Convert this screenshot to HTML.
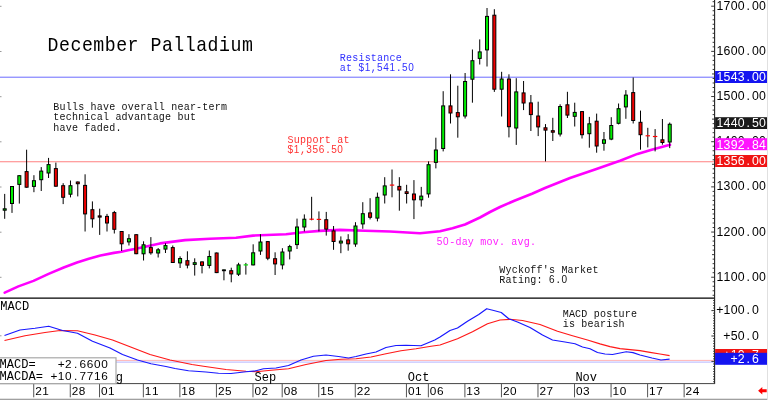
<!DOCTYPE html>
<html lang="en"><head><meta charset="utf-8"><title>December Palladium</title>
<style>
html,body{margin:0;padding:0;background:#fff;}
body{width:768px;height:400px;overflow:hidden;}
svg{display:block;}
.m{font-family:"Liberation Mono",monospace;}
.s{font-family:"Liberation Sans",sans-serif;font-size:12.3px;text-anchor:middle;}
.s2{font-size:11.8px;}
.k{font-family:"Liberation Mono",monospace;font-size:12px;}
.d{font-family:"Liberation Sans",sans-serif;letter-spacing:0.69px;}
.t{font-size:19.6px;letter-spacing:0.54px;}
.n{font-size:10.8px;letter-spacing:0.21px;}
</style></head><body>
<svg width="768" height="400" viewBox="0 0 768 400">
<rect x="0" y="0" width="768" height="400" fill="#fff"/>
<line x1="0" y1="77.2" x2="714" y2="77.2" stroke="#6a6aff" stroke-width="1"/>
<line x1="0" y1="161.7" x2="714" y2="161.7" stroke="#ff8080" stroke-width="1.1"/>
<line x1="116" y1="360.4" x2="714" y2="360.4" stroke="#ffb4b4" stroke-width="1"/>
<line x1="116" y1="362.1" x2="714" y2="362.1" stroke="#b4b4ff" stroke-width="1"/>
<polyline fill="none" stroke="#ff00ff" stroke-width="2.6" stroke-linejoin="round" stroke-linecap="round" points="4.7,292.6 18.4,286.4 33.5,280.9 48.6,273.9 63.7,267.5 77,262.5 88.8,258.8 100.5,255.5 113.9,252.9 121.4,251.8 128,250.3 136,248.8 160,243.4 185,240.1 210,238.8 236,237.8 253,235.6 286,234.2 303,232.2 320,230.9 340,229.9 365,230.7 390,231.5 420,233.2 440,231.2 452.5,228.2 465,224.5 480,217.5 490,212 500,207 515,200.5 532,193.7 545,188 570,178 595,169.5 620,160.7 637.5,153.9 652.5,149.6 670,144.8"/>
<g stroke="#000" stroke-width="1">
<line x1="4.7" y1="193.9" x2="4.7" y2="218.8"/>
<rect x="3.2" y="208.8" width="3" height="1.4" fill="#00f000"/>
<line x1="12.01" y1="186" x2="12.01" y2="212.9"/>
<rect x="10.51" y="186.5" width="3" height="17" fill="#00f000"/>
<line x1="19.32" y1="175.2" x2="19.32" y2="203.6"/>
<rect x="17.82" y="175.7" width="3" height="8.7" fill="#00f000"/>
<line x1="26.62" y1="149.7" x2="26.62" y2="187.7"/>
<rect x="25.12" y="171.6" width="3" height="15.6" fill="#f00000"/>
<line x1="33.93" y1="175.2" x2="33.93" y2="192.2"/>
<rect x="32.43" y="180.7" width="3" height="5.7" fill="#00f000"/>
<line x1="41.24" y1="167.1" x2="41.24" y2="191"/>
<rect x="39.74" y="171.1" width="3" height="8.6" fill="#00f000"/>
<line x1="48.55" y1="157.9" x2="48.55" y2="178"/>
<rect x="47.05" y="164.6" width="3" height="8.4" fill="#00f000"/>
<line x1="55.86" y1="162.6" x2="55.86" y2="186.7"/>
<rect x="54.36" y="168.6" width="3" height="17.6" fill="#f00000"/>
<line x1="63.16" y1="183.2" x2="63.16" y2="204.1"/>
<rect x="61.66" y="185.7" width="3" height="11.6" fill="#f00000"/>
<line x1="70.47" y1="180.5" x2="70.47" y2="197.4"/>
<rect x="68.97" y="185.7" width="3" height="8.5" fill="#00f000"/>
<line x1="77.78" y1="181.5" x2="77.78" y2="196.4"/>
<rect x="76.28" y="182" width="3" height="1.7" fill="#f00000"/>
<line x1="85.09" y1="174.3" x2="85.09" y2="231.5"/>
<rect x="83.59" y="185.4" width="3" height="28.5" fill="#f00000"/>
<line x1="92.4" y1="201.4" x2="92.4" y2="227.7"/>
<rect x="90.9" y="209.7" width="3" height="9.1" fill="#f00000"/>
<line x1="99.7" y1="208.7" x2="99.7" y2="234.9"/>
<rect x="98.2" y="215.9" width="3" height="1.2" fill="#f00000"/>
<line x1="107.01" y1="213.9" x2="107.01" y2="231.5"/>
<rect x="105.51" y="216.4" width="3" height="6.6" fill="#f00000"/>
<line x1="114.32" y1="210.9" x2="114.32" y2="233.5"/>
<rect x="112.82" y="212.6" width="3" height="16.7" fill="#f00000"/>
<line x1="121.63" y1="231" x2="121.63" y2="251"/>
<rect x="120.13" y="231.5" width="3" height="12.3" fill="#f00000"/>
<line x1="128.94" y1="234.2" x2="128.94" y2="245.5"/>
<rect x="127.44" y="238.7" width="3" height="3.2" fill="#00f000"/>
<line x1="136.24" y1="234.2" x2="136.24" y2="254.2"/>
<rect x="134.74" y="234.7" width="3" height="19" fill="#f00000"/>
<line x1="143.55" y1="241.3" x2="143.55" y2="260.5"/>
<rect x="142.05" y="244.8" width="3" height="9" fill="#00f000"/>
<line x1="150.86" y1="237.1" x2="150.86" y2="254.7"/>
<rect x="149.36" y="247.6" width="3" height="5.2" fill="#f00000"/>
<line x1="158.17" y1="248" x2="158.17" y2="257.5"/>
<rect x="156.67" y="249.8" width="3" height="3.2" fill="#00f000"/>
<line x1="165.48" y1="243.3" x2="165.48" y2="253"/>
<rect x="163.98" y="245.6" width="3" height="3.5" fill="#00f000"/>
<line x1="172.78" y1="245.5" x2="172.78" y2="263"/>
<rect x="171.28" y="247.6" width="3" height="14.9" fill="#f00000"/>
<line x1="180.09" y1="256.3" x2="180.09" y2="268"/>
<rect x="178.59" y="258.5" width="3" height="4.4" fill="#00f000"/>
<line x1="187.4" y1="251.3" x2="187.4" y2="268.4"/>
<rect x="185.9" y="260.7" width="3" height="4.4" fill="#f00000"/>
<line x1="194.71" y1="258.3" x2="194.71" y2="275.6"/>
<rect x="193.21" y="262.7" width="3" height="1.7" fill="#00f000"/>
<line x1="202.02" y1="261.4" x2="202.02" y2="273.4"/>
<rect x="200.52" y="261.9" width="3" height="3.5" fill="#f00000"/>
<line x1="209.32" y1="250.5" x2="209.32" y2="268.4"/>
<rect x="207.82" y="256.5" width="3" height="8.9" fill="#00f000"/>
<line x1="216.63" y1="252.5" x2="216.63" y2="273.1"/>
<rect x="215.13" y="253" width="3" height="19.6" fill="#f00000"/>
<line x1="223.94" y1="269.4" x2="223.94" y2="280.3"/>
<rect x="222.44" y="269.9" width="3" height="0.8" fill="#00f000"/>
<line x1="231.25" y1="267.7" x2="231.25" y2="282.3"/>
<rect x="229.75" y="270.7" width="3" height="3.2" fill="#f00000"/>
<line x1="238.56" y1="262.8" x2="238.56" y2="276"/>
<rect x="237.06" y="264.9" width="3" height="9.3" fill="#00f000"/>
<line x1="245.86" y1="262.9" x2="245.86" y2="274.6"/>
<line x1="243.66" y1="264.9" x2="248.06" y2="264.9" stroke="#00e000" stroke-width="1.2"/>
<line x1="253.17" y1="244.3" x2="253.17" y2="265.4"/>
<rect x="251.67" y="252.8" width="3" height="12.1" fill="#00f000"/>
<line x1="260.48" y1="234.2" x2="260.48" y2="254.9"/>
<rect x="258.98" y="242" width="3" height="9" fill="#00f000"/>
<line x1="267.79" y1="241.1" x2="267.79" y2="260.2"/>
<rect x="266.29" y="241.6" width="3" height="16.6" fill="#f00000"/>
<line x1="275.1" y1="252.3" x2="275.1" y2="275"/>
<rect x="273.6" y="258.7" width="3" height="5.2" fill="#f00000"/>
<line x1="282.4" y1="248.2" x2="282.4" y2="269.4"/>
<rect x="280.9" y="252" width="3" height="12.9" fill="#00f000"/>
<line x1="289.71" y1="244.8" x2="289.71" y2="259.4"/>
<rect x="288.21" y="246.6" width="3" height="4.4" fill="#00f000"/>
<line x1="297.02" y1="218.6" x2="297.02" y2="249"/>
<rect x="295.52" y="227" width="3" height="17.6" fill="#00f000"/>
<line x1="304.33" y1="214.4" x2="304.33" y2="231.4"/>
<rect x="302.83" y="219.2" width="3" height="7.8" fill="#00f000"/>
<line x1="311.64" y1="196.8" x2="311.64" y2="220.3"/>
<line x1="309.44" y1="219.2" x2="313.84" y2="219.2" stroke="#ff0000" stroke-width="1.2"/>
<line x1="318.94" y1="211.4" x2="318.94" y2="231.4"/>
<line x1="316.74" y1="219.4" x2="321.14" y2="219.4" stroke="#ff0000" stroke-width="1.2"/>
<line x1="326.25" y1="211.9" x2="326.25" y2="235.6"/>
<rect x="324.75" y="219.7" width="3" height="9.4" fill="#f00000"/>
<line x1="333.56" y1="226" x2="333.56" y2="249.8"/>
<rect x="332.06" y="230.9" width="3" height="10.6" fill="#f00000"/>
<line x1="340.87" y1="236.4" x2="340.87" y2="253.2"/>
<rect x="339.37" y="241.1" width="3" height="1.9" fill="#00f000"/>
<line x1="348.18" y1="234.2" x2="348.18" y2="250.7"/>
<rect x="346.68" y="239.9" width="3" height="3.9" fill="#f00000"/>
<line x1="355.48" y1="222.2" x2="355.48" y2="246.8"/>
<rect x="353.98" y="226" width="3" height="18" fill="#00f000"/>
<line x1="362.79" y1="202.2" x2="362.79" y2="228.8"/>
<rect x="361.29" y="213.7" width="3" height="10.2" fill="#00f000"/>
<line x1="370.1" y1="198.2" x2="370.1" y2="219.4"/>
<rect x="368.6" y="212.9" width="3" height="4.4" fill="#f00000"/>
<line x1="377.41" y1="192.6" x2="377.41" y2="221.4"/>
<rect x="375.91" y="197.3" width="3" height="20.8" fill="#00f000"/>
<line x1="384.72" y1="177.2" x2="384.72" y2="203.5"/>
<rect x="383.22" y="185.9" width="3" height="9.1" fill="#00f000"/>
<line x1="392.02" y1="169.5" x2="392.02" y2="197.3"/>
<line x1="389.82" y1="185.1" x2="394.22" y2="185.1" stroke="#ff0000" stroke-width="1.2"/>
<line x1="399.33" y1="177.2" x2="399.33" y2="210.7"/>
<rect x="397.83" y="186.4" width="3" height="3.6" fill="#f00000"/>
<line x1="406.64" y1="184.8" x2="406.64" y2="203.5"/>
<rect x="405.14" y="191.8" width="3" height="1.7" fill="#f00000"/>
<line x1="413.95" y1="180.1" x2="413.95" y2="219.1"/>
<rect x="412.45" y="194" width="3" height="5.8" fill="#f00000"/>
<line x1="421.26" y1="186.9" x2="421.26" y2="206.6"/>
<rect x="419.76" y="196.1" width="3" height="3.7" fill="#00f000"/>
<line x1="428.56" y1="161.4" x2="428.56" y2="197.7"/>
<rect x="427.06" y="164.7" width="3" height="29.2" fill="#00f000"/>
<line x1="435.87" y1="137.7" x2="435.87" y2="168.4"/>
<rect x="434.37" y="150" width="3" height="12.4" fill="#00f000"/>
<line x1="443.18" y1="91.2" x2="443.18" y2="151.4"/>
<rect x="441.68" y="105.9" width="3" height="42.6" fill="#00f000"/>
<line x1="450.49" y1="74.3" x2="450.49" y2="123.5"/>
<rect x="448.99" y="105.9" width="3" height="7.1" fill="#f00000"/>
<line x1="457.8" y1="85.7" x2="457.8" y2="137.7"/>
<rect x="456.3" y="112.6" width="3" height="4.2" fill="#f00000"/>
<line x1="465.1" y1="73" x2="465.1" y2="118.5"/>
<rect x="463.6" y="81.5" width="3" height="34.5" fill="#00f000"/>
<line x1="472.41" y1="49.5" x2="472.41" y2="102.7"/>
<rect x="470.91" y="60.7" width="3" height="18.5" fill="#00f000"/>
<line x1="479.72" y1="39.4" x2="479.72" y2="64.5"/>
<rect x="478.22" y="51.9" width="3" height="6.5" fill="#00f000"/>
<line x1="487.03" y1="8" x2="487.03" y2="66.5"/>
<rect x="485.53" y="16.4" width="3" height="33.5" fill="#00f000"/>
<line x1="494.34" y1="9.2" x2="494.34" y2="91.9"/>
<rect x="492.84" y="15.2" width="3" height="74" fill="#f00000"/>
<line x1="501.64" y1="71.8" x2="501.64" y2="116.5"/>
<rect x="500.14" y="79" width="3" height="10.2" fill="#00f000"/>
<line x1="508.95" y1="74.3" x2="508.95" y2="137.4"/>
<rect x="507.45" y="79" width="3" height="47.7" fill="#f00000"/>
<line x1="516.26" y1="78.2" x2="516.26" y2="144.9"/>
<rect x="514.76" y="91.9" width="3" height="36.1" fill="#00f000"/>
<line x1="523.57" y1="81" x2="523.57" y2="110.1"/>
<rect x="522.07" y="92.9" width="3" height="10.1" fill="#f00000"/>
<line x1="530.88" y1="95" x2="530.88" y2="131"/>
<rect x="529.38" y="102.9" width="3" height="11.7" fill="#f00000"/>
<line x1="538.18" y1="101.7" x2="538.18" y2="136.1"/>
<rect x="536.68" y="116" width="3" height="10.9" fill="#f00000"/>
<line x1="545.49" y1="124.1" x2="545.49" y2="161.4"/>
<rect x="543.99" y="127.8" width="3" height="2.3" fill="#f00000"/>
<line x1="552.8" y1="117.8" x2="552.8" y2="141"/>
<rect x="551.3" y="130.7" width="3" height="1.5" fill="#f00000"/>
<line x1="560.11" y1="104.3" x2="560.11" y2="136.5"/>
<rect x="558.61" y="106.5" width="3" height="27.5" fill="#00f000"/>
<line x1="567.42" y1="91.8" x2="567.42" y2="118"/>
<rect x="565.92" y="104.8" width="3" height="10.3" fill="#f00000"/>
<line x1="574.72" y1="102.7" x2="574.72" y2="126.5"/>
<rect x="573.22" y="112.4" width="3" height="3.9" fill="#00f000"/>
<line x1="582.03" y1="111.1" x2="582.03" y2="138.5"/>
<rect x="580.53" y="111.6" width="3" height="23.1" fill="#f00000"/>
<line x1="589.34" y1="116.9" x2="589.34" y2="147.7"/>
<rect x="587.84" y="123.8" width="3" height="9.9" fill="#00f000"/>
<line x1="596.65" y1="113.6" x2="596.65" y2="152.7"/>
<rect x="595.15" y="121.2" width="3" height="24.8" fill="#f00000"/>
<line x1="603.96" y1="132" x2="603.96" y2="150.7"/>
<rect x="602.46" y="139.8" width="3" height="3.5" fill="#00f000"/>
<line x1="611.26" y1="117.2" x2="611.26" y2="140.2"/>
<rect x="609.76" y="125.5" width="3" height="13.6" fill="#00f000"/>
<line x1="618.57" y1="103.5" x2="618.57" y2="124.4"/>
<rect x="617.07" y="108.7" width="3" height="14.6" fill="#00f000"/>
<line x1="625.88" y1="90.1" x2="625.88" y2="118.8"/>
<rect x="624.38" y="95.1" width="3" height="11.8" fill="#00f000"/>
<line x1="633.19" y1="77.5" x2="633.19" y2="123.5"/>
<rect x="631.69" y="92.6" width="3" height="27.9" fill="#f00000"/>
<line x1="640.5" y1="110.6" x2="640.5" y2="149.7"/>
<rect x="639" y="122.3" width="3" height="12.4" fill="#f00000"/>
<line x1="647.8" y1="127.8" x2="647.8" y2="147.4"/>
<line x1="645.6" y1="135.8" x2="650" y2="135.8" stroke="#ff0000" stroke-width="1.2"/>
<line x1="655.11" y1="129.1" x2="655.11" y2="151.4"/>
<line x1="652.91" y1="136.5" x2="657.31" y2="136.5" stroke="#ff0000" stroke-width="1.2"/>
<line x1="662.42" y1="119" x2="662.42" y2="144.7"/>
<rect x="660.92" y="139.8" width="3" height="2.7" fill="#f00000"/>
<line x1="669.73" y1="122.5" x2="669.73" y2="148.1"/>
<rect x="668.23" y="124.25" width="3" height="17.75" fill="#00f000"/>
</g>
<polyline fill="none" stroke="#ff1818" stroke-width="1.25" stroke-linejoin="round" points="4.5,340.5 25,335.75 45,332.5 60,330.5 77.5,330.75 95,335 112.5,340 130,346.75 150,354.5 170,360 192,364.5 203.5,366.25 226,369.5 246,371.25 256,371.75 271,370.25 288.5,368.75 306,364.5 326,360.5 341,359.25 356,358.75 371,357 386,353.75 401,350.75 416,348.75 431,346.25 440,345 457.5,338.75 472.5,331.75 487.5,323.75 500,320 510,319.25 522.5,320.5 540,324.5 557.5,331.25 572.5,335.75 587.5,340 600,343.8 610,346.6 620,348.6 630,349.6 640,350.6 650,352.4 660,354 669.6,355.6"/>
<polyline fill="none" stroke="#1818ff" stroke-width="1.25" stroke-linejoin="round" points="4.5,335.5 20,330 35,328.25 48.75,326.25 62.5,330.5 77.5,333.25 92.5,341.25 110,348 122.5,354.5 137.5,360 151,363.75 166,366.5 175,368.5 188.5,370.75 206,372 218.5,373.25 231,373.5 246,371.75 256,370.75 263.5,368.75 276,368 288.5,365.5 301,360 313.5,356.25 326,355 338.5,356.5 348.5,358 356,356.5 366,354 376,352 386,347.5 396,345.5 406,345.25 421,345.75 434.75,340 440,337 450,330.5 457.5,328 467.5,321.25 478.75,314.5 486.75,308.75 493.75,310.5 501.25,312.5 508.75,318.75 517.5,322 530,327.5 542.5,335 552.5,340 565,342 575,343.75 582.5,347 590,348.75 597.5,352.5 605,354 612.5,354.5 620,353 626.25,351.75 633,352.6 640,355 652,358 661,360 669.6,359.2"/>
<line x1="0" y1="298.1" x2="714.5" y2="298.1" stroke="#000" stroke-width="1.4"/>
<line x1="714.6" y1="0" x2="714.6" y2="384" stroke="#222" stroke-width="1.1"/>
<line x1="0" y1="383.6" x2="715" y2="383.6" stroke="#444" stroke-width="1"/>
<g stroke="#222" stroke-width="0.9">
<line x1="712.6" y1="1.68" x2="714.2" y2="1.68"/>
<line x1="711.2" y1="6.2" x2="714.2" y2="6.2"/>
<line x1="712.6" y1="10.72" x2="714.2" y2="10.72"/>
<line x1="712.6" y1="15.23" x2="714.2" y2="15.23"/>
<line x1="712.6" y1="19.75" x2="714.2" y2="19.75"/>
<line x1="712.6" y1="24.27" x2="714.2" y2="24.27"/>
<line x1="712" y1="28.79" x2="714.2" y2="28.79"/>
<line x1="712.6" y1="33.3" x2="714.2" y2="33.3"/>
<line x1="712.6" y1="37.82" x2="714.2" y2="37.82"/>
<line x1="712.6" y1="42.34" x2="714.2" y2="42.34"/>
<line x1="712.6" y1="46.85" x2="714.2" y2="46.85"/>
<line x1="711.2" y1="51.37" x2="714.2" y2="51.37"/>
<line x1="712.6" y1="55.89" x2="714.2" y2="55.89"/>
<line x1="712.6" y1="60.4" x2="714.2" y2="60.4"/>
<line x1="712.6" y1="64.92" x2="714.2" y2="64.92"/>
<line x1="712.6" y1="69.44" x2="714.2" y2="69.44"/>
<line x1="712" y1="73.96" x2="714.2" y2="73.96"/>
<line x1="712.6" y1="78.47" x2="714.2" y2="78.47"/>
<line x1="712.6" y1="82.99" x2="714.2" y2="82.99"/>
<line x1="712.6" y1="87.51" x2="714.2" y2="87.51"/>
<line x1="712.6" y1="92.02" x2="714.2" y2="92.02"/>
<line x1="711.2" y1="96.54" x2="714.2" y2="96.54"/>
<line x1="712.6" y1="101.06" x2="714.2" y2="101.06"/>
<line x1="712.6" y1="105.57" x2="714.2" y2="105.57"/>
<line x1="712.6" y1="110.09" x2="714.2" y2="110.09"/>
<line x1="712.6" y1="114.61" x2="714.2" y2="114.61"/>
<line x1="712" y1="119.12" x2="714.2" y2="119.12"/>
<line x1="712.6" y1="123.64" x2="714.2" y2="123.64"/>
<line x1="712.6" y1="128.16" x2="714.2" y2="128.16"/>
<line x1="712.6" y1="132.68" x2="714.2" y2="132.68"/>
<line x1="712.6" y1="137.19" x2="714.2" y2="137.19"/>
<line x1="711.2" y1="141.71" x2="714.2" y2="141.71"/>
<line x1="712.6" y1="146.23" x2="714.2" y2="146.23"/>
<line x1="712.6" y1="150.74" x2="714.2" y2="150.74"/>
<line x1="712.6" y1="155.26" x2="714.2" y2="155.26"/>
<line x1="712.6" y1="159.78" x2="714.2" y2="159.78"/>
<line x1="712" y1="164.29" x2="714.2" y2="164.29"/>
<line x1="712.6" y1="168.81" x2="714.2" y2="168.81"/>
<line x1="712.6" y1="173.33" x2="714.2" y2="173.33"/>
<line x1="712.6" y1="177.85" x2="714.2" y2="177.85"/>
<line x1="712.6" y1="182.36" x2="714.2" y2="182.36"/>
<line x1="711.2" y1="186.88" x2="714.2" y2="186.88"/>
<line x1="712.6" y1="191.4" x2="714.2" y2="191.4"/>
<line x1="712.6" y1="195.91" x2="714.2" y2="195.91"/>
<line x1="712.6" y1="200.43" x2="714.2" y2="200.43"/>
<line x1="712.6" y1="204.95" x2="714.2" y2="204.95"/>
<line x1="712" y1="209.46" x2="714.2" y2="209.46"/>
<line x1="712.6" y1="213.98" x2="714.2" y2="213.98"/>
<line x1="712.6" y1="218.5" x2="714.2" y2="218.5"/>
<line x1="712.6" y1="223.02" x2="714.2" y2="223.02"/>
<line x1="712.6" y1="227.53" x2="714.2" y2="227.53"/>
<line x1="711.2" y1="232.05" x2="714.2" y2="232.05"/>
<line x1="712.6" y1="236.57" x2="714.2" y2="236.57"/>
<line x1="712.6" y1="241.08" x2="714.2" y2="241.08"/>
<line x1="712.6" y1="245.6" x2="714.2" y2="245.6"/>
<line x1="712.6" y1="250.12" x2="714.2" y2="250.12"/>
<line x1="712" y1="254.63" x2="714.2" y2="254.63"/>
<line x1="712.6" y1="259.15" x2="714.2" y2="259.15"/>
<line x1="712.6" y1="263.67" x2="714.2" y2="263.67"/>
<line x1="712.6" y1="268.19" x2="714.2" y2="268.19"/>
<line x1="712.6" y1="272.7" x2="714.2" y2="272.7"/>
<line x1="711.2" y1="277.22" x2="714.2" y2="277.22"/>
<line x1="712.6" y1="281.74" x2="714.2" y2="281.74"/>
<line x1="712.6" y1="286.25" x2="714.2" y2="286.25"/>
<line x1="712.6" y1="290.77" x2="714.2" y2="290.77"/>
<line x1="712.6" y1="295.29" x2="714.2" y2="295.29"/>
<line x1="713.1" y1="381.72" x2="714.2" y2="381.72"/>
<line x1="713.1" y1="379.18" x2="714.2" y2="379.18"/>
<line x1="713.1" y1="376.64" x2="714.2" y2="376.64"/>
<line x1="713.1" y1="374.1" x2="714.2" y2="374.1"/>
<line x1="713.1" y1="371.56" x2="714.2" y2="371.56"/>
<line x1="713.1" y1="369.02" x2="714.2" y2="369.02"/>
<line x1="713.1" y1="366.48" x2="714.2" y2="366.48"/>
<line x1="713.1" y1="363.94" x2="714.2" y2="363.94"/>
<line x1="711.4" y1="361.4" x2="714.2" y2="361.4"/>
<line x1="713.1" y1="358.86" x2="714.2" y2="358.86"/>
<line x1="713.1" y1="356.32" x2="714.2" y2="356.32"/>
<line x1="713.1" y1="353.78" x2="714.2" y2="353.78"/>
<line x1="713.1" y1="351.24" x2="714.2" y2="351.24"/>
<line x1="713.1" y1="348.7" x2="714.2" y2="348.7"/>
<line x1="713.1" y1="346.16" x2="714.2" y2="346.16"/>
<line x1="713.1" y1="343.62" x2="714.2" y2="343.62"/>
<line x1="713.1" y1="341.08" x2="714.2" y2="341.08"/>
<line x1="713.1" y1="338.54" x2="714.2" y2="338.54"/>
<line x1="711.4" y1="336" x2="714.2" y2="336"/>
<line x1="713.1" y1="333.46" x2="714.2" y2="333.46"/>
<line x1="713.1" y1="330.92" x2="714.2" y2="330.92"/>
<line x1="713.1" y1="328.38" x2="714.2" y2="328.38"/>
<line x1="713.1" y1="325.84" x2="714.2" y2="325.84"/>
<line x1="713.1" y1="323.3" x2="714.2" y2="323.3"/>
<line x1="713.1" y1="320.76" x2="714.2" y2="320.76"/>
<line x1="713.1" y1="318.22" x2="714.2" y2="318.22"/>
<line x1="713.1" y1="315.68" x2="714.2" y2="315.68"/>
<line x1="713.1" y1="313.14" x2="714.2" y2="313.14"/>
<line x1="711.4" y1="310.6" x2="714.2" y2="310.6"/>
<line x1="713.1" y1="308.06" x2="714.2" y2="308.06"/>
<line x1="713.1" y1="305.52" x2="714.2" y2="305.52"/>
<line x1="713.1" y1="302.98" x2="714.2" y2="302.98"/>
<line x1="713.1" y1="300.44" x2="714.2" y2="300.44"/>
</g>
<g stroke="#999" stroke-width="1">
<line x1="0" y1="6.3" x2="1.5" y2="6.3"/>
<line x1="0" y1="51.5" x2="1.5" y2="51.5"/>
<line x1="0" y1="96.7" x2="1.5" y2="96.7"/>
<line x1="0" y1="141.8" x2="1.5" y2="141.8"/>
<line x1="0" y1="187" x2="1.5" y2="187"/>
<line x1="0" y1="232.2" x2="1.5" y2="232.2"/>
<line x1="0" y1="277.3" x2="1.5" y2="277.3"/>
<line x1="0" y1="335.8" x2="1.5" y2="335.8"/>
</g>
<text class="s" x="719.85 726.95 734.05 741.15 748.25 755.35 762.45" y="9.7" fill="#000" xml:space="preserve">1700.00</text>
<text class="s" x="719.85 726.95 734.05 741.15 748.25 755.35 762.45" y="54.87" fill="#000" xml:space="preserve">1600.00</text>
<text class="s" x="719.85 726.95 734.05 741.15 748.25 755.35 762.45" y="100.04" fill="#000" xml:space="preserve">1500.00</text>
<text class="s" x="719.85 726.95 734.05 741.15 748.25 755.35 762.45" y="190.38" fill="#000" xml:space="preserve">1300.00</text>
<text class="s" x="719.85 726.95 734.05 741.15 748.25 755.35 762.45" y="235.55" fill="#000" xml:space="preserve">1200.00</text>
<text class="s" x="719.85 726.95 734.05 741.15 748.25 755.35 762.45" y="280.72" fill="#000" xml:space="preserve">1100.00</text>
<text class="s" x="719.85 726.95 734.05 741.15 748.25 755.35 762.45" y="145.2" fill="#000" xml:space="preserve">1400.00</text>
<rect x="715.1" y="71" width="52" height="12" fill="#1414f0"/>
<text class="s" x="719.85 726.95 734.05 741.15 748.25 755.35 762.45" y="81.3" fill="#fff" xml:space="preserve">1543.00</text>
<rect x="715.1" y="117.2" width="52" height="11.8" fill="#1a1a1a"/>
<text class="s" x="719.85 726.95 734.05 741.15 748.25 755.35 762.45" y="127.4" fill="#fff" xml:space="preserve">1440.50</text>
<rect x="715.1" y="138.2" width="52" height="12" fill="#ff14ff"/>
<text class="s" x="719.85 726.95 734.05 741.15 748.25 755.35 762.45" y="148.6" fill="#fff" xml:space="preserve">1392.84</text>
<rect x="715.1" y="155" width="52" height="12" fill="#f01414"/>
<text class="s" x="719.85 726.95 734.05 741.15 748.25 755.35 762.45" y="165.3" fill="#fff" xml:space="preserve">1356.00</text>
<text class="s" x="719.85 726.95 734.05 741.15 748.25 755.35" y="313.9" fill="#000" xml:space="preserve">+100.0</text>
<text class="s" x="726.95 734.05 741.15 748.25 755.35" y="339.6" fill="#000" xml:space="preserve">+50.0</text>
<rect x="715.1" y="349" width="52" height="12" fill="#f01414"/>
<text class="s" x="726.95 734.05 741.15 748.25 755.35" y="359.3" fill="#fff" xml:space="preserve">+10.7</text>
<rect x="715.1" y="352.8" width="52" height="12" fill="#1414f0"/>
<text class="s" x="734.05 741.15 748.25 755.35" y="363.1" fill="#fff" xml:space="preserve">+2.6</text>
<g stroke="#555" stroke-width="1">
<line x1="33.73" y1="383.6" x2="33.73" y2="397.3"/>
<line x1="70.27" y1="383.6" x2="70.27" y2="397.3"/>
<line x1="99.5" y1="383.6" x2="99.5" y2="397.3"/>
<line x1="143.35" y1="383.6" x2="143.35" y2="397.3"/>
<line x1="179.89" y1="383.6" x2="179.89" y2="397.3"/>
<line x1="216.43" y1="383.6" x2="216.43" y2="397.3"/>
<line x1="252.97" y1="383.6" x2="252.97" y2="397.3"/>
<line x1="282.2" y1="383.6" x2="282.2" y2="397.3"/>
<line x1="318.74" y1="383.6" x2="318.74" y2="397.3"/>
<line x1="355.28" y1="383.6" x2="355.28" y2="397.3"/>
<line x1="406.44" y1="383.6" x2="406.44" y2="397.3"/>
<line x1="428.36" y1="383.6" x2="428.36" y2="397.3"/>
<line x1="464.9" y1="383.6" x2="464.9" y2="397.3"/>
<line x1="501.44" y1="383.6" x2="501.44" y2="397.3"/>
<line x1="537.98" y1="383.6" x2="537.98" y2="397.3"/>
<line x1="574.52" y1="383.6" x2="574.52" y2="397.3"/>
<line x1="611.06" y1="383.6" x2="611.06" y2="397.3"/>
<line x1="647.6" y1="383.6" x2="647.6" y2="397.3"/>
<line x1="684.14" y1="383.6" x2="684.14" y2="397.3"/>
</g>
<text class="s s2" x="38.48 45.58" y="394.5" fill="#000" xml:space="preserve">21</text>
<text class="s s2" x="75.02 82.12" y="394.5" fill="#000" xml:space="preserve">28</text>
<text class="s s2" x="104.25 111.35" y="394.5" fill="#000" xml:space="preserve">01</text>
<text class="s s2" x="148.1 155.2" y="394.5" fill="#000" xml:space="preserve">11</text>
<text class="s s2" x="184.64 191.74" y="394.5" fill="#000" xml:space="preserve">18</text>
<text class="s s2" x="221.18 228.28" y="394.5" fill="#000" xml:space="preserve">25</text>
<text class="s s2" x="257.72 264.82" y="394.5" fill="#000" xml:space="preserve">02</text>
<text class="s s2" x="286.95 294.05" y="394.5" fill="#000" xml:space="preserve">08</text>
<text class="s s2" x="323.49 330.59" y="394.5" fill="#000" xml:space="preserve">15</text>
<text class="s s2" x="360.03 367.13" y="394.5" fill="#000" xml:space="preserve">22</text>
<text class="s s2" x="411.19 418.29" y="394.5" fill="#000" xml:space="preserve">01</text>
<text class="s s2" x="433.11 440.21" y="394.5" fill="#000" xml:space="preserve">06</text>
<text class="s s2" x="469.65 476.75" y="394.5" fill="#000" xml:space="preserve">13</text>
<text class="s s2" x="506.19 513.29" y="394.5" fill="#000" xml:space="preserve">20</text>
<text class="s s2" x="542.73 549.83" y="394.5" fill="#000" xml:space="preserve">27</text>
<text class="s s2" x="579.27 586.37" y="394.5" fill="#000" xml:space="preserve">03</text>
<text class="s s2" x="615.81 622.91" y="394.5" fill="#000" xml:space="preserve">10</text>
<text class="s s2" x="652.35 659.45" y="394.5" fill="#000" xml:space="preserve">17</text>
<text class="s s2" x="688.89 695.99" y="394.5" fill="#000" xml:space="preserve">24</text>
<text class="s" x="105 112.2 119.4" y="381.3" fill="#000" xml:space="preserve"><tspan class="k">Aug</tspan></text>
<text class="s" x="258.2 265.4 272.6" y="381.3" fill="#000" xml:space="preserve"><tspan class="k">Sep</tspan></text>
<text class="s" x="411.4 418.6 425.8" y="381.3" fill="#000" xml:space="preserve"><tspan class="k">Oct</tspan></text>
<text class="s" x="579 586.2 593.4" y="381.3" fill="#000" xml:space="preserve"><tspan class="k">Nov</tspan></text>
<text class="s" x="3.83 11.07 18.32 25.57" y="310.2" fill="#000" xml:space="preserve"><tspan class="k">MACD</tspan></text>
<rect x="-1" y="357.8" width="117" height="25.8" fill="#fff" stroke="#a8a8a8" stroke-width="1.2"/>
<text class="s s2" x="3.12 10.38 17.62 24.88 32.12 39.38 46.62 53.88 61.12 68.38 75.62 82.88 90.12 97.38 104.62" y="368.2" fill="#000" xml:space="preserve"><tspan class="k">MACD=</tspan>   +2.6600</text>
<text class="s s2" x="3.12 10.38 17.62 24.88 32.12 39.38 46.62 53.88 61.12 68.38 75.62 82.88 90.12 97.38 104.62" y="380.4" fill="#000" xml:space="preserve"><tspan class="k">MACDA=</tspan> +10.7716</text>
<text class="m t" transform="translate(47.6 51.4) scale(0.93 1)" fill="#000" xml:space="preserve">December Palladium</text>
<text class="m n" transform="translate(53.3 110) scale(0.93 1)" fill="#111" xml:space="preserve">Bulls have overall near-term</text>
<text class="m n" transform="translate(53.3 120.4) scale(0.93 1)" fill="#111" xml:space="preserve">technical advantage but</text>
<text class="m n" transform="translate(53.3 130.7) scale(0.93 1)" fill="#111" xml:space="preserve">have faded.</text>
<text class="m n" transform="translate(339.8 60.9) scale(0.93 1)" fill="#3030ff" xml:space="preserve">Resistance</text>
<text class="m n" transform="translate(339.8 71.2) scale(0.93 1)" fill="#3030ff" xml:space="preserve">at <tspan class="d">$1</tspan>,<tspan class="d">541</tspan>.<tspan class="d">50</tspan></text>
<text class="m n" transform="translate(287.6 142.8) scale(0.93 1)" fill="#ff3030" xml:space="preserve">Support at</text>
<text class="m n" transform="translate(287.6 153.4) scale(0.93 1)" fill="#ff3030" xml:space="preserve"><tspan class="d">$1</tspan>,<tspan class="d">356</tspan>.<tspan class="d">50</tspan></text>
<text class="m n" transform="translate(436.8 245) scale(0.93 1)" fill="#ff20ff" xml:space="preserve"><tspan class="d">50</tspan>-day mov. avg.</text>
<text class="m n" transform="translate(499.3 272.5) scale(0.93 1)" fill="#111" xml:space="preserve">Wyckoff's Market</text>
<text class="m n" transform="translate(499.3 283) scale(0.93 1)" fill="#111" xml:space="preserve">Rating: <tspan class="d">6</tspan>.<tspan class="d">0</tspan></text>
<text class="m n" transform="translate(562.7 316.7) scale(0.93 1)" fill="#111" xml:space="preserve">MACD posture</text>
<text class="m n" transform="translate(562.7 327) scale(0.93 1)" fill="#111" xml:space="preserve">is bearish</text>
<path d="M758.1 390.7 L762.3 387.1 L762.3 389.2 L766.7 389.2 L766.7 392.3 L762.3 392.3 L762.3 394.4 Z" fill="#ff0000"/>
<rect x="0" y="398.7" width="768" height="1.3" fill="#a0a0a0"/>
<rect x="767" y="0" width="1" height="400" fill="#e0e0e0"/>
</svg>
</body></html>
